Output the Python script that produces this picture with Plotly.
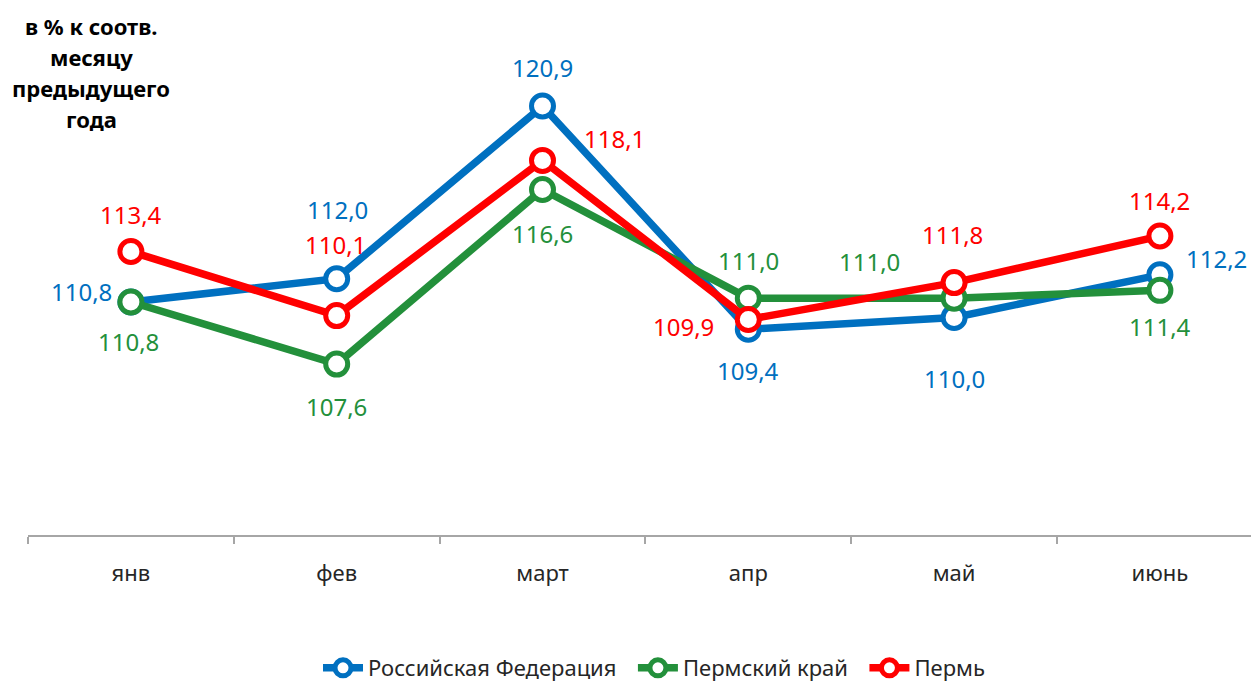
import plotly.graph_objects as go

months = ["янв", "фев", "март", "апр", "май", "июнь"]
series_names = ["Российская Федерация", "Пермский край", "Пермь"]
rf_values = [110.8, 112.0, 120.9, 109.4, 110.0, 112.2]
krai_values = [110.8, 107.6, 116.6, 111.0, 111.0, 111.4]
perm_values = [113.4, 110.1, 118.1, 109.9, 111.8, 114.2]
title_lines = ["в % к соотв.", "месяцу", "предыдущего", "года"]

colors = ["#0070C0", "#23903B", "#FF0000"]
all_values = [rf_values, krai_values, perm_values]

# label pixel offsets (xshift, yshift) per series per point
label_offsets = [
    [(-49, 11), (1, 69), (0, 39), (0, -41), (0, -61), (57, 16)],
    [(-2, -39), (0, -42), (0, -44), (0, 38), (-85, 37), (0, -36)],
    [(0, 37), (-1, 71), (72, 22), (-65, -7), (-2, 48), (0, 36)],
]

FONT = "Noto Sans"
fig = go.Figure()
for name, vals, col in zip(series_names, all_values, colors):
    fig.add_trace(go.Scatter(
        x=months, y=vals, name=name + "\u00a0\u00a0", mode="lines+markers",
        line=dict(color=col, width=7.5),
        marker=dict(symbol="circle", size=22, color="white",
                    line=dict(color=col, width=5)),
        cliponaxis=False,
    ))

annotations = []
for vals, col, offs in zip(all_values, colors, label_offsets):
    for m, v, (dx, dy) in zip(months, vals, offs):
        annotations.append(dict(
            x=m, y=v, xref="x", yref="y",
            text=f"{v:.1f}".replace(".", ","),
            showarrow=False, xshift=dx, yshift=dy,
            font=dict(family=FONT, size=24, color=col),
        ))

W, H = 1251, 682
L, R, T, B = 28, 0, 50, 147
plot_h = H - T - B
plot_w = W - L - R
for i, line in enumerate(title_lines):
    ypx = 26 + 31 * i
    annotations.append(dict(
        x=(91 - L) / plot_w, y=(H - B - ypx) / plot_h,
        xref="paper", yref="paper", xanchor="center", yanchor="middle",
        text=f"<b>{line}</b>", showarrow=False,
        font=dict(family=FONT, size=22, color="black"),
    ))

fig.update_layout(
    width=W, height=H,
    margin=dict(l=L, r=R, t=T, b=B, autoexpand=False),
    plot_bgcolor="white", paper_bgcolor="white",
    showlegend=True,
    legend=dict(orientation="h", xref="container", yref="container",
                x=660 / W, xanchor="center",
                y=(H - 668) / H, yanchor="middle",
                font=dict(family=FONT, size=22, color="#262626"),
                itemwidth=40),
    xaxis=dict(
        type="category", range=[-0.5, -0.5 + plot_w / 205.8],
        showline=True, linecolor="#A6A6A6", linewidth=1.5,
        ticks="outside", tickson="boundaries", ticklen=7,
        tickcolor="#A6A6A6", tickwidth=1.5,
        showgrid=False, zeroline=False,
        tickfont=dict(family=FONT, size=22, color="#262626"),
        ticklabelstandoff=18,
    ),
    yaxis=dict(range=[98.79, 123.79], visible=False, showgrid=False),
    annotations=annotations,
)

fig.write_html("out.html", config={"displayModeBar": False},
               post_script="document.body.style.margin='0';document.body.style.overflow='hidden';")
